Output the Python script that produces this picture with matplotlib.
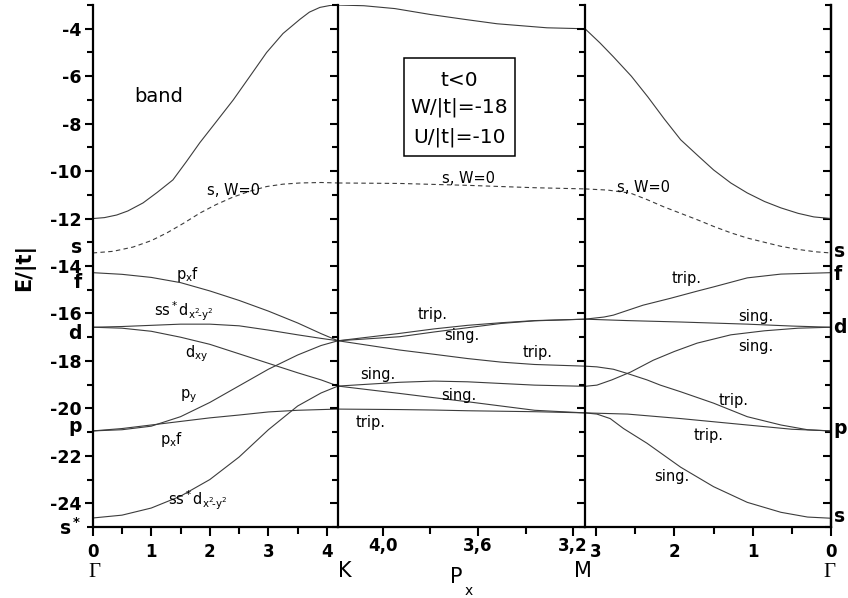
"""Band structure of the two-particle states along Gamma-K-M-Gamma (t<0, W/|t|=-18, U/|t|=-10)."""
import matplotlib.pyplot as plt
from matplotlib.ticker import MultipleLocator, FixedLocator
from matplotlib.patches import Rectangle

plt.rcParams['font.family'] = 'DejaVu Sans'
plt.rcParams['mathtext.default'] = 'regular'

K_PX = 4.189          # 4pi/3
M_PX = 3.15           # where the middle panel ends
PI_PX = 3.1416

# ---------------- Gamma -> K ----------------
GK_TOP_PX = [0, 0.2, 0.41, 0.6, 0.86, 1.1, 1.37, 1.6, 1.83, 2.1, 2.4, 2.7, 2.97,
             3.25, 3.54, 3.7, 3.88, 4.05, K_PX]
GK_TOP_E = [-12.0, -11.96, -11.85, -11.68, -11.34, -10.9, -10.37, -9.6, -8.8, -7.95,
            -7.0, -5.95, -5.0, -4.2, -3.6, -3.3, -3.1, -3.02, -3.0]
GK_DASH_PX = [0, 0.35, 0.69, 1.0, 1.27, 1.55, 1.83, 2.1, 2.39, 2.68, 2.97, 3.25,
              3.54, 3.9, K_PX]
GK_DASH_E = [-13.45, -13.38, -13.2, -12.93, -12.6, -12.2, -11.77, -11.42, -11.1,
             -10.85, -10.65, -10.55, -10.5, -10.48, -10.5]
GK_PX = [0, 0.5, 1.0, 1.5, 2.0, 2.5, 3.0, 3.5, 3.9, K_PX]
GK_PXF_UP = [-14.28, -14.35, -14.48, -14.7, -15.05, -15.45, -15.9, -16.4, -16.85, -17.15]
GK_SSD_UP = [-16.58, -16.55, -16.5, -16.45, -16.45, -16.52, -16.7, -16.9, -17.05, -17.15]
GK_DXY = [-16.58, -16.62, -16.75, -17.0, -17.3, -17.7, -18.1, -18.5, -18.8, -19.06]
GK_PY = [-20.95, -20.9, -20.75, -20.35, -19.75, -19.05, -18.35, -17.75, -17.35, -17.15]
GK_PXF_LO = [-20.95, -20.85, -20.7, -20.55, -20.4, -20.28, -20.15, -20.08, -20.05, -20.03]
GK_SSD_LO = [-24.62, -24.5, -24.2, -23.7, -23.0, -22.05, -20.9, -19.9, -19.35, -19.06]

# ---------------- K -> M ----------------
KM_TOP_PX = [K_PX, 4.08, 3.95, 3.80, 3.66, 3.52, 3.31, M_PX]
KM_TOP_E = [-3.0, -3.03, -3.15, -3.4, -3.6, -3.79, -3.96, -4.0]
KM_DASH_PX = [K_PX, 3.93, 3.644, 3.362, M_PX]
KM_DASH_E = [-10.5, -10.52, -10.6, -10.7, -10.75]
KM_PX = [K_PX, 3.93, 3.785, 3.644, 3.503, 3.362, M_PX]
KM_TRIP_1 = [-17.15, -16.84, -16.65, -16.5, -16.39, -16.3, -16.24]
KM_SING_1 = [-17.15, -16.98, -16.78, -16.6, -16.42, -16.31, -16.24]
KM_TRIP_2 = [-17.15, -17.54, -17.72, -17.9, -18.05, -18.15, -18.22]
KM_SING_2 = [-19.06, -18.9, -18.85, -18.88, -18.95, -19.02, -19.07]
KM_SING_3 = [-19.06, -19.37, -19.55, -19.72, -19.9, -20.08, -20.19]
KM_TRIP_3 = [-20.03, -20.05, -20.07, -20.1, -20.12, -20.14, -20.19]

# ---------------- M -> Gamma ----------------
MG_TOP_PX = [PI_PX, 2.95, 2.78, 2.55, 2.34, 2.13, 1.92, 1.7, 1.5, 1.28, 1.07, 0.85,
             0.64, 0.42, 0.22, 0]
MG_TOP_E = [-4.0, -4.6, -5.18, -6.0, -6.87, -7.8, -8.68, -9.35, -9.95, -10.5, -10.92,
            -11.28, -11.55, -11.78, -11.93, -12.0]
MG_DASH_PX = [PI_PX, 2.85, 2.56, 2.35, 2.14, 1.92, 1.7, 1.5, 1.28, 1.07, 0.85, 0.64,
              0.42, 0.2, 0]
MG_DASH_E = [-10.75, -10.8, -10.93, -11.2, -11.5, -11.78, -12.06, -12.33, -12.6,
             -12.82, -13.0, -13.17, -13.3, -13.4, -13.45]
MG_TRIP_1_PX = [PI_PX, 2.9, 2.78, 2.4, 2.05, 1.7, 1.5, 1.07, 0.64, 0]
MG_TRIP_1_E = [-16.24, -16.15, -16.07, -15.65, -15.36, -15.05, -14.88, -14.5, -14.34, -14.28]
MG_SING_1_PX = [PI_PX, 2.6, 1.92, 1.07, 0.5, 0]
MG_SING_1_E = [-16.24, -16.3, -16.36, -16.45, -16.53, -16.58]
MG_SING_2_PX = [PI_PX, 2.99, 2.8, 2.56, 2.27, 2.0, 1.71, 1.28, 0.85, 0.42, 0]
MG_SING_2_E = [-19.07, -19.02, -18.8, -18.47, -17.97, -17.6, -17.25, -16.9, -16.73, -16.62, -16.58]
MG_TRIP_2_PX = [PI_PX, 2.99, 2.78, 2.6, 2.35, 2.18, 1.92, 1.5, 1.07, 0.64, 0.3, 0]
MG_TRIP_2_E = [-18.22, -18.25, -18.35, -18.53, -18.8, -19.02, -19.3, -19.78, -20.35, -20.7, -20.9, -20.95]
MG_TRIP_3_PX = [PI_PX, 2.6, 1.92, 1.07, 0.5, 0]
MG_TRIP_3_E = [-20.19, -20.24, -20.43, -20.7, -20.88, -20.95]
MG_SING_3_PX = [PI_PX, 2.99, 2.82, 2.65, 2.35, 1.92, 1.5, 1.07, 0.64, 0.3, 0]
MG_SING_3_E = [-20.19, -20.24, -20.43, -20.85, -21.47, -22.48, -23.3, -23.96, -24.38, -24.58, -24.63]

# level labels on the energy axes (baseline energies)
LEFT_LEVELS = ['s', 'f', 'd', 'p', r'$\mathbf{s^*}$']
LEFT_LEVEL_E = [-13.47, -14.94, -17.09, -20.99, -25.35]
RIGHT_LEVELS = ['s', 'f', 'd', 'p', 's']
RIGHT_LEVEL_E = [-13.6, -14.6, -16.84, -21.06, -24.79]

LINE = dict(color='#3c3c3c', lw=0.8)
DASH = dict(color='#3c3c3c', lw=0.8, dashes=(4, 3))
ANN = dict(fontsize=10.5, ha='center', va='baseline')

fig = plt.figure(figsize=(8.48, 5.98), dpi=100)
bottom, height = 0.1187, 0.8729
ax0 = fig.add_axes([0.1093, bottom, 0.2893, height])
ax1 = fig.add_axes([0.3986, bottom, 0.2913, height])
ax2 = fig.add_axes([0.6899, bottom, 0.2901, height])

for ax in (ax0, ax1, ax2):
    ax.set_ylim(-25, -3)
    ax.yaxis.set_major_locator(MultipleLocator(2))
    ax.yaxis.set_minor_locator(MultipleLocator(1))
    ax.spines['top'].set_visible(False)
    ax.spines['right'].set_visible(False)
    for s in ('left', 'bottom', 'right'):
        ax.spines[s].set_linewidth(1.6)
    ax.tick_params(axis='y', which='both', direction='out', left=True, right=False,
                   width=1.5, labelleft=False)
    ax.tick_params(axis='y', which='major', length=6)
    ax.tick_params(axis='y', which='minor', length=4.5)
    ax.tick_params(axis='x', which='both', direction='out', width=1.5, labelsize=12)
    ax.tick_params(axis='x', which='major', length=6.5)
    ax.tick_params(axis='x', which='minor', length=5)

ax0.tick_params(axis='y', labelleft=True, labelsize=12.5, pad=2)
ax0.set_yticks(range(-24, -3, 2))
ax0.set_yticklabels([str(v) for v in range(-24, -3, 2)], fontweight='bold')

# --- Gamma -> K ---
ax0.set_xlim(0, K_PX)
ax0.set_xticks(range(0, 5))
ax0.set_xticklabels([str(v) for v in range(0, 5)], fontweight='bold')
ax0.xaxis.set_minor_locator(MultipleLocator(0.5))
ax0.tick_params(axis='x', pad=5)
ax0.plot(GK_TOP_PX, GK_TOP_E, **LINE)
ax0.plot(GK_DASH_PX, GK_DASH_E, **DASH)
for band in (GK_PXF_UP, GK_SSD_UP, GK_DXY, GK_PY, GK_PXF_LO, GK_SSD_LO):
    ax0.plot(GK_PX, band, **LINE)
ax0.text(1.13, -7.08, 'band', fontsize=14, ha='center', va='baseline')
ax0.text(2.40, -11.0, 's, W=0', **ANN)
ax0.text(1.63, -14.55, r'p$_x$f', **ANN)
ax0.text(1.55, -16.14, r'ss$^*$d$_{x^2\!\text{-}y^2}$', **ANN)
ax0.text(1.78, -17.83, r'd$_{xy}$', **ANN)
ax0.text(1.63, -19.58, r'p$_y$', **ANN)
ax0.text(1.35, -21.52, r'p$_x$f', **ANN)
ax0.text(1.79, -24.08, r'ss$^*$d$_{x^2\!\text{-}y^2}$', **ANN)
ytr = ax0.get_yaxis_transform()
for lab, e in zip(LEFT_LEVELS, LEFT_LEVEL_E):
    ax0.text(-0.045, e, lab, transform=ytr, fontsize=13.5, fontweight='bold',
             ha='right', va='baseline', clip_on=False)

# --- K -> M ---
ax1.set_xlim(K_PX, M_PX)
ax1.set_xticks([4.0, 3.6, 3.2])
ax1.set_xticklabels(['4,0', '3,6', '3,2'], fontweight='bold')
ax1.xaxis.set_minor_locator(FixedLocator([3.8, 3.4]))
ax1.tick_params(axis='x', pad=0.5)
ax1.plot(KM_TOP_PX, KM_TOP_E, **LINE)
ax1.plot(KM_DASH_PX, KM_DASH_E, **DASH)
for band in (KM_TRIP_1, KM_SING_1, KM_TRIP_2, KM_SING_2, KM_SING_3, KM_TRIP_3):
    ax1.plot(KM_PX, band, **LINE)
ax1.text(3.64, -10.48, 's, W=0', **ANN)
ax1.text(3.79, -16.25, 'trip.', **ANN)
ax1.text(3.67, -17.12, 'sing.', **ANN)
ax1.text(3.35, -17.83, 'trip.', **ANN)
ax1.text(4.02, -18.77, 'sing.', **ANN)
ax1.text(3.68, -19.65, 'sing.', **ANN)
ax1.text(4.05, -20.78, 'trip.', **ANN)
ax1.add_patch(Rectangle((0.267, 0.711), 0.449, 0.188, transform=ax1.transAxes,
                        fill=False, ec='black', lw=1.1))
for txt, yy in zip(['t<0', 'W/|t|=-18', 'U/|t|=-10'], [0.856, 0.805, 0.747]):
    ax1.text(0.492, yy, txt, transform=ax1.transAxes, fontsize=14.5,
             ha='center', va='center')

# --- M -> Gamma ---
ax2.set_xlim(PI_PX, 0)
ax2.set_xticks([3, 2, 1, 0])
ax2.set_xticklabels(['3', '2', '1', '0'], fontweight='bold')
ax2.xaxis.set_minor_locator(FixedLocator([2.5, 1.5, 0.5]))
ax2.tick_params(axis='x', pad=5)
ax2.spines['right'].set_visible(True)
sec = ax2.secondary_yaxis('right')
sec.yaxis.set_major_locator(MultipleLocator(2))
sec.yaxis.set_minor_locator(MultipleLocator(1))
sec.tick_params(axis='y', which='both', direction='in', width=1.5, labelright=False)
sec.tick_params(axis='y', which='major', length=6)
sec.tick_params(axis='y', which='minor', length=4.5)
sec.spines['right'].set_linewidth(1.6)
ax2.plot(MG_TOP_PX, MG_TOP_E, **LINE)
ax2.plot(MG_DASH_PX, MG_DASH_E, **DASH)
ax2.plot(MG_TRIP_1_PX, MG_TRIP_1_E, **LINE)
ax2.plot(MG_SING_1_PX, MG_SING_1_E, **LINE)
ax2.plot(MG_SING_2_PX, MG_SING_2_E, **LINE)
ax2.plot(MG_TRIP_2_PX, MG_TRIP_2_E, **LINE)
ax2.plot(MG_TRIP_3_PX, MG_TRIP_3_E, **LINE)
ax2.plot(MG_SING_3_PX, MG_SING_3_E, **LINE)
ax2.text(2.39, -10.86, 's, W=0', **ANN)
ax2.text(1.85, -14.73, 'trip.', **ANN)
ax2.text(0.96, -16.31, 'sing.', **ANN)
ax2.text(0.96, -17.57, 'sing.', **ANN)
ax2.text(1.24, -19.86, 'trip.', **ANN)
ax2.text(1.56, -21.34, 'trip.', **ANN)
ax2.text(2.03, -23.06, 'sing.', **ANN)
ytr2 = ax2.get_yaxis_transform()
for lab, e in zip(RIGHT_LEVELS, RIGHT_LEVEL_E):
    ax2.text(1.01, e, lab, transform=ytr2, fontsize=13.5, fontweight='bold',
             ha='left', va='baseline', clip_on=False)

# symmetry points and axis titles
fig.text(0.029, 0.552, 'E/|t|', rotation=90, fontsize=15, fontweight='bold',
         ha='center', va='center')
fig.text(95 / 848, 0.035, r'$\Gamma$', fontsize=15, ha='center', va='baseline',
         family='Liberation Serif')
fig.text(830 / 848, 0.035, r'$\Gamma$', fontsize=15, ha='center', va='baseline',
         family='Liberation Serif')
fig.text(338 / 848, 0.035, 'K', fontsize=15, ha='left', va='baseline')
fig.text(583 / 848, 0.035, 'M', fontsize=15, ha='center', va='baseline')
fig.text(450 / 848, 0.025, 'P', fontsize=15, ha='left', va='baseline')
fig.text(465 / 848, 0.005, 'x', fontsize=10, ha='left', va='baseline')

fig.savefig('out.png', dpi=100)
